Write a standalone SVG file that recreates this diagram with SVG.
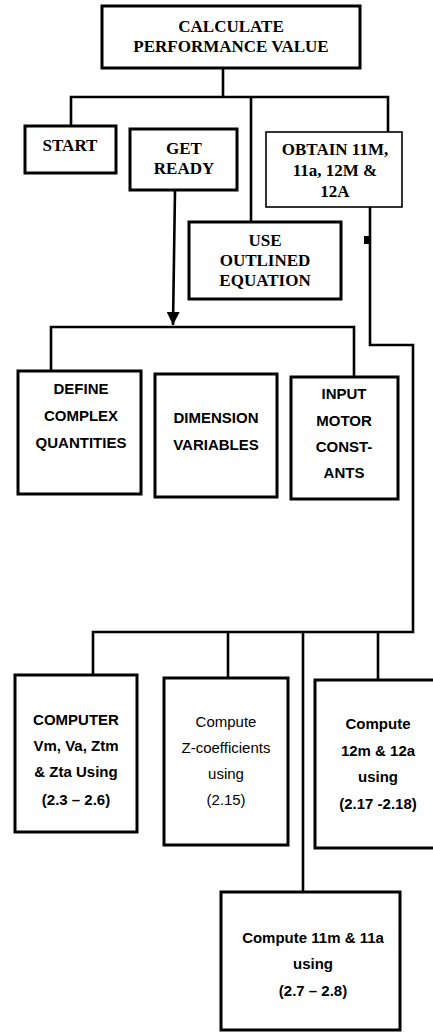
<svg xmlns="http://www.w3.org/2000/svg" width="433" height="1032" viewBox="0 0 433 1032">
<style>
  .box { fill: #fff; stroke: #000; stroke-width: 3; }
  .thin { fill: #fff; stroke: #000; stroke-width: 1.6; }
  .ln { fill: none; stroke: #000; stroke-width: 2.6; stroke-linejoin: miter; }
  .tr { font-family: "Liberation Serif", "Times New Roman", serif; font-weight: bold; font-size: 17px; text-anchor: middle; fill: #000; }
  .ar { font-family: "Liberation Sans", Arial, sans-serif; font-weight: bold; font-size: 15px; text-anchor: middle; fill: #000; }
  .arn { font-family: "Liberation Sans", Arial, sans-serif; font-weight: normal; font-size: 15px; text-anchor: middle; fill: #000; }
</style>
<defs>
  <marker id="arr" viewBox="0 0 10 10" refX="10" refY="5" markerWidth="5" markerHeight="5" orient="auto" markerUnits="strokeWidth">
    <path d="M0,0 L10,5 L0,10 Z" fill="#000"/>
  </marker>
</defs>
<rect width="433" height="1032" fill="#fff"/>
<g id="connectors">
  <path class="ln" d="M223,68 V97"/>
  <path class="ln" d="M71,125 V97 H388 V132"/>
  <path class="ln" d="M251,97 V222"/>
  <path class="ln" d="M175,190 L173,325" marker-end="url(#arr)"/>
  <path class="ln" d="M51,370 V327 H354 V376"/>
  <path class="ln" d="M370,207 V345 H413 V632 H93 V675"/>
  <path d="M364,236 L369,236 L369,244 L364,244 Z" fill="#000"/>
  <path class="ln" d="M228,632 V678"/>
  <path class="ln" d="M303,632 V892"/>
  <path class="ln" d="M378,632 V680"/>
</g>
<g id="n-calc">
  <rect class="box" x="102" y="6" width="258" height="62"/>
  <text class="tr" x="231" y="32">CALCULATE</text>
  <text class="tr" x="231" y="52">PERFORMANCE VALUE</text>
</g>
<g id="n-start">
  <rect class="box" x="25" y="126" width="91" height="47"/>
  <text class="tr" x="70" y="151">START</text>
</g>
<g id="n-getready">
  <rect class="box" x="130" y="129" width="107" height="61"/>
  <text class="tr" x="184" y="154">GET</text>
  <text class="tr" x="184" y="174">READY</text>
</g>
<g id="n-obtain">
  <rect class="thin" x="266" y="132" width="136" height="75"/>
  <text class="tr" x="335" y="155">OBTAIN 11M,</text>
  <text class="tr" x="335" y="176">11a, 12M &amp;</text>
  <text class="tr" x="335" y="197">12A</text>
</g>
<g id="n-use">
  <rect class="box" x="189" y="222" width="152" height="77"/>
  <text class="tr" x="265" y="246">USE</text>
  <text class="tr" x="265" y="266">OUTLINED</text>
  <text class="tr" x="265" y="286">EQUATION</text>
</g>
<g id="n-define">
  <rect class="box" x="18" y="371" width="123" height="123"/>
  <text class="ar" x="81" y="394">DEFINE</text>
  <text class="ar" x="81" y="421">COMPLEX</text>
  <text class="ar" x="81" y="448">QUANTITIES</text>
</g>
<g id="n-dimension">
  <rect class="box" x="155" y="374" width="122" height="123"/>
  <text class="ar" x="216" y="423">DIMENSION</text>
  <text class="ar" x="216" y="450">VARIABLES</text>
</g>
<g id="n-input">
  <rect class="box" x="291" y="377" width="107" height="122"/>
  <text class="ar" x="344" y="399">INPUT</text>
  <text class="ar" x="344" y="426">MOTOR</text>
  <text class="ar" x="344" y="452">CONST-</text>
  <text class="ar" x="344" y="478">ANTS</text>
</g>
<g id="n-computer">
  <rect class="box" x="15" y="675" width="122" height="157"/>
  <text class="ar" x="76" y="725">COMPUTER</text>
  <text class="ar" x="76" y="751">Vm, Va, Ztm</text>
  <text class="ar" x="76" y="777">&amp; Zta Using</text>
  <text class="ar" x="76" y="805">(2.3 – 2.6)</text>
</g>
<g id="n-zcoef">
  <rect class="box" x="164" y="678" width="124" height="167"/>
  <text class="arn" x="226" y="727">Compute</text>
  <text class="arn" x="226" y="753">Z-coefficients</text>
  <text class="arn" x="226" y="779">using</text>
  <text class="arn" x="226" y="805">(2.15)</text>
</g>
<g id="n-12m">
  <rect class="box" x="315" y="680" width="125" height="168"/>
  <text class="ar" x="378" y="729">Compute</text>
  <text class="ar" x="378" y="756">12m &amp; 12a</text>
  <text class="ar" x="378" y="782">using</text>
  <text class="ar" x="378" y="809">(2.17 -2.18)</text>
</g>
<g id="n-11m">
  <rect class="box" x="221" y="892" width="179" height="138"/>
  <text class="ar" x="313" y="943">Compute 11m &amp; 11a</text>
  <text class="ar" x="313" y="969">using</text>
  <text class="ar" x="313" y="996">(2.7 – 2.8)</text>
</g>
</svg>
